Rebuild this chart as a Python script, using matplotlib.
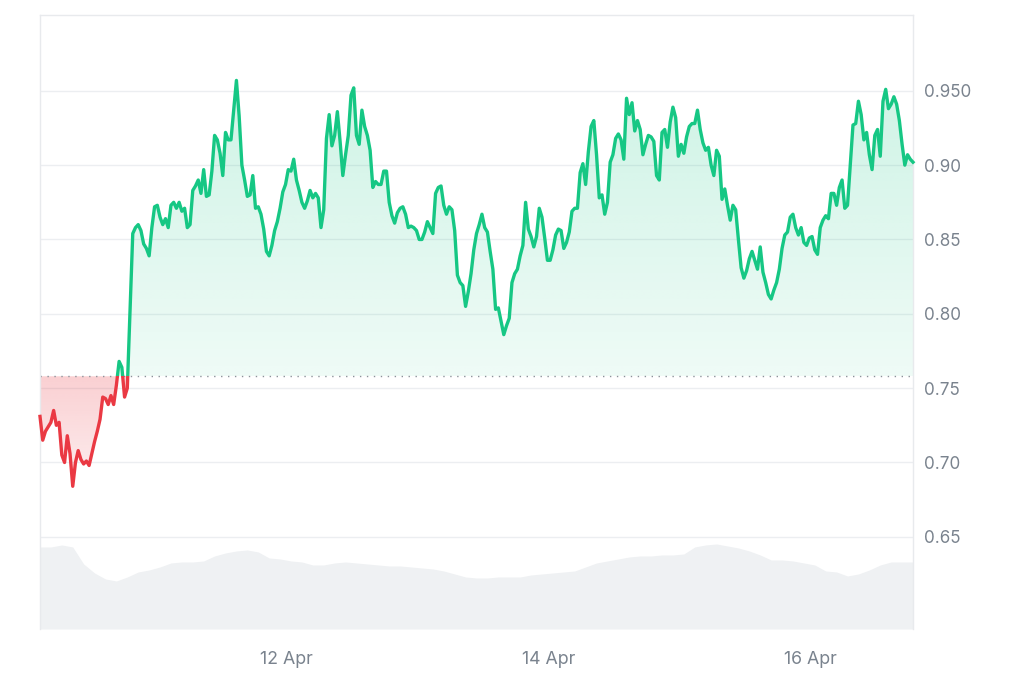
import numpy as np
import pandas as pd
import matplotlib
matplotlib.use("Agg")
import matplotlib.pyplot as plt
import matplotlib.dates as mdates
from matplotlib.path import Path
from matplotlib.patches import Rectangle

# ---------------- data ----------------
start_time = "2024-04-10 02:45"
price = [
    0.731, 0.715, 0.721, 0.724, 0.727, 0.735, 0.725, 0.727, 0.705, 0.700,
    0.718, 0.706, 0.684, 0.700, 0.708, 0.702, 0.699, 0.701, 0.698, 0.706,
    0.714, 0.721, 0.729, 0.744, 0.743, 0.739, 0.745, 0.739, 0.752, 0.768,
    0.764, 0.744, 0.750, 0.803, 0.854, 0.858, 0.860, 0.856, 0.847, 0.844,
    0.839, 0.858, 0.872, 0.873, 0.865, 0.860, 0.864, 0.858, 0.873, 0.875,
    0.871, 0.875, 0.869, 0.871, 0.858, 0.860, 0.883, 0.886, 0.890, 0.881,
    0.897, 0.879, 0.880, 0.896, 0.920, 0.917, 0.908, 0.893, 0.922, 0.917,
    0.917, 0.937, 0.957, 0.933, 0.900, 0.890, 0.879, 0.880, 0.893, 0.871,
    0.872, 0.867, 0.857, 0.842, 0.839, 0.846, 0.856, 0.862, 0.871, 0.882,
    0.887, 0.897, 0.896, 0.904, 0.890, 0.883, 0.875, 0.871, 0.876, 0.883,
    0.878, 0.881, 0.878, 0.858, 0.870, 0.918, 0.934, 0.913, 0.920, 0.936,
    0.916, 0.893, 0.907, 0.920, 0.947, 0.952, 0.920, 0.914, 0.937, 0.926,
    0.920, 0.910, 0.885, 0.889, 0.887, 0.887, 0.896, 0.896, 0.875, 0.866,
    0.861, 0.868, 0.871, 0.872, 0.867, 0.858, 0.859, 0.858, 0.856, 0.850,
    0.850, 0.855, 0.862, 0.858, 0.854, 0.881, 0.885, 0.886, 0.873, 0.867,
    0.872, 0.870, 0.856, 0.826, 0.821, 0.819, 0.805, 0.815, 0.827, 0.843,
    0.854, 0.860, 0.867, 0.858, 0.855, 0.842, 0.830, 0.803, 0.804, 0.795,
    0.786, 0.792, 0.797, 0.821, 0.827, 0.830, 0.839, 0.846, 0.875, 0.857,
    0.852, 0.845, 0.852, 0.871, 0.865, 0.851, 0.836, 0.836, 0.843, 0.853,
    0.857, 0.856, 0.844, 0.848, 0.855, 0.869, 0.871, 0.871, 0.895, 0.901,
    0.887, 0.909, 0.926, 0.930, 0.907, 0.878, 0.880, 0.867, 0.875, 0.902,
    0.907, 0.918, 0.921, 0.917, 0.904, 0.945, 0.934, 0.942, 0.923, 0.930,
    0.924, 0.907, 0.914, 0.920, 0.919, 0.916, 0.893, 0.890, 0.922, 0.924,
    0.912, 0.929, 0.939, 0.932, 0.906, 0.914, 0.908, 0.919, 0.926, 0.928,
    0.928, 0.937, 0.924, 0.915, 0.910, 0.912, 0.900, 0.893, 0.910, 0.906,
    0.877, 0.884, 0.873, 0.863, 0.873, 0.870, 0.850, 0.831, 0.824, 0.829,
    0.837, 0.842, 0.836, 0.830, 0.845, 0.828, 0.821, 0.813, 0.810, 0.816,
    0.821, 0.830, 0.844, 0.853, 0.855, 0.865, 0.867, 0.858, 0.853, 0.858,
    0.848, 0.846, 0.851, 0.852, 0.843, 0.840, 0.858, 0.863, 0.866, 0.864,
    0.881, 0.881, 0.873, 0.885, 0.890, 0.871, 0.873, 0.900, 0.927, 0.928,
    0.943, 0.934, 0.917, 0.922, 0.907, 0.897, 0.920, 0.924, 0.906, 0.943,
    0.951, 0.938, 0.941, 0.946, 0.941, 0.930, 0.914, 0.900, 0.907, 0.904,
    0.902,
]
volume = [
    82, 82, 84, 82, 65, 56, 50, 48, 52, 57, 59, 62, 66, 67, 67, 68, 73, 76,
    78, 79, 77, 71, 70, 68, 67, 64, 64, 66, 67, 66, 65, 64, 63, 63, 62, 61,
    60, 58, 55, 52, 51, 51, 52, 52, 52, 54, 55, 56, 57, 58, 62, 66, 68, 70,
    72, 73, 73, 74, 74, 75, 82, 84, 85, 83, 81, 78, 74, 69, 69, 68, 66, 64,
    58, 57, 53, 55, 59, 64, 67, 67, 67,
]
baseline_price = 0.758
y_ticks = [0.65, 0.70, 0.75, 0.80, 0.85, 0.90, 0.95]
y_tick_labels = ["0.65", "0.70", "0.75", "0.80", "0.85", "0.90", "0.950"]
x_ticks = ["2024-04-12", "2024-04-14", "2024-04-16"]

# ---------------- styling ----------------
GREEN = "#16c784"
RED = "#ea3943"
TEXT = "#7a838e"
GRID = "#eceef1"
VOL = "#eff1f3"

plt.rcParams["font.family"] = ["Inter", "DejaVu Sans"]

times = pd.date_range(start_time, periods=len(price), freq="30min")
vtimes = pd.date_range(start_time, periods=len(volume), freq="2h")
t = mdates.date2num(times.to_pydatetime())
vt = mdates.date2num(vtimes.to_pydatetime())
p = np.array(price)

fig = plt.figure(figsize=(10.24, 6.83), dpi=100)
rect = [40 / 1024, 54 / 683, 873 / 1024, 614 / 683]

# volume axis (behind)
axv = fig.add_axes(rect, zorder=0)
axv.fill_between(vt, volume, 0, color=VOL, lw=0)
axv.set_xlim(t[0], t[-1])
axv.set_ylim(0, max(volume) * 7.22)
axv.axis("off")

ax = fig.add_axes(rect, zorder=1)
ax.patch.set_alpha(0)
ax.set_xlim(t[0], t[-1])
ax.set_ylim(0.588, 1.001)

for sp in ["left", "right", "top"]:
    ax.spines[sp].set_color("#e8eaed")
    ax.spines[sp].set_linewidth(1)
ax.spines["bottom"].set_visible(False)

ax.set_yticks(y_ticks)
ax.set_yticklabels(y_tick_labels)
ax.yaxis.tick_right()
ax.tick_params(axis="y", length=0, pad=8, labelsize=12.3, labelcolor=TEXT)
ax.grid(axis="y", color=GRID, lw=1, zorder=0)
ax.set_axisbelow(True)

ax.set_xticks(mdates.date2num(pd.to_datetime(x_ticks).to_pydatetime()))
ax.xaxis.set_major_formatter(mdates.DateFormatter("%-d %b"))
ax.tick_params(axis="x", length=0, pad=16, labelsize=12.8, labelcolor=TEXT)

# gradient fills
def gradient_fill(mask_above, y_lo, y_hi, rgb, a_lo, a_hi):
    coll = ax.fill_between(t, p, baseline_price, where=mask_above,
                           interpolate=True, facecolor="none", edgecolor="none")
    paths = coll.get_paths()
    if not paths:
        return
    clip = Path.make_compound_path(*paths)
    n = 256
    alphas = np.linspace(a_lo, a_hi, n)
    img = np.zeros((n, 2, 4))
    img[:, :, 0] = rgb[0]
    img[:, :, 1] = rgb[1]
    img[:, :, 2] = rgb[2]
    img[:, :, 3] = alphas[:, None]
    im = ax.imshow(img, extent=[t[0], t[-1], y_lo, y_hi], origin="lower",
                   aspect="auto", zorder=1, interpolation="bilinear")
    im.set_clip_path(clip, transform=ax.transData)

green_rgb = np.array([22, 199, 132]) / 255
red_rgb = np.array([234, 57, 67]) / 255
gradient_fill(p >= baseline_price, baseline_price, 0.96, green_rgb, 0.07, 0.21)
gradient_fill(p <= baseline_price, 0.68, baseline_price, red_rgb, 0.08, 0.24)
ax.set_xlim(t[0], t[-1])
ax.set_ylim(0.588, 1.001)

# baseline dotted
ax.axhline(baseline_price, color="#8c929a", lw=1.0, ls=(0, (1, 4)), zorder=2)

# price line, coloured above/below baseline
lg, = ax.plot(t, p, color=GREEN, lw=2.4, zorder=3, solid_joinstyle="round")
lr, = ax.plot(t, p, color=RED, lw=2.4, zorder=3, solid_joinstyle="round")
above = Rectangle((t[0] - 10, baseline_price), t[-1] - t[0] + 20, 1.0,
                  transform=ax.transData)
below = Rectangle((t[0] - 10, baseline_price - 1.0), t[-1] - t[0] + 20, 1.0,
                  transform=ax.transData)
lg.set_clip_path(above)
lr.set_clip_path(below)

fig.savefig("out.png", dpi=100, facecolor="white")
